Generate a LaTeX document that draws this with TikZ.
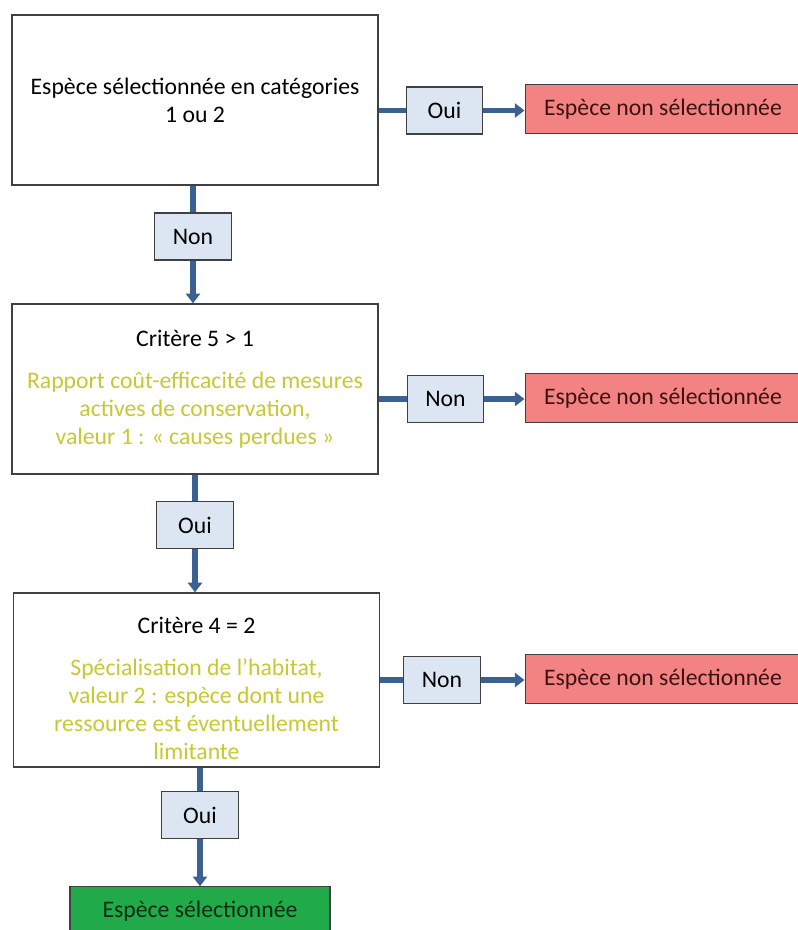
\documentclass[tikz,border=0pt]{standalone}
\usepackage{fontspec}
\setmainfont{Carlito}
\usetikzlibrary{arrows.meta,positioning,calc}
\definecolor{flecheBleu}{RGB}{59,96,146}
\definecolor{reponseFond}{RGB}{220,230,242}
\definecolor{rougeFond}{RGB}{243,130,130}
\definecolor{rougeTexte}{RGB}{60,18,18}
\definecolor{vertFond}{RGB}{32,170,74}
\definecolor{vertTexte}{RGB}{12,45,18}
\definecolor{jauneTexte}{RGB}{200,200,50}
\definecolor{bord}{RGB}{64,64,64}
\tikzset{
  critere/.style={draw=bord, line width=0.8pt, fill=white, align=center,
    minimum width=7.32cm, minimum height=3.4cm, inner sep=2pt},
  reponse/.style={draw=bord, line width=0.8pt, fill=reponseFond,
    minimum width=1.53cm, minimum height=0.94cm, inner sep=1pt},
  rejet/.style={draw=bord, line width=0.6pt, fill=rougeFond, text=rougeTexte,
    minimum width=5.52cm, minimum height=0.97cm},
  fleche/.style={draw=flecheBleu, line width=3.4pt,
    -{Triangle[width=8pt,length=5.5pt]}},
  trait/.style={draw=flecheBleu, line width=3.4pt}
}
\newcommand{\jaune}[1]{\textcolor{jauneTexte}{#1}}
\begin{document}
\begin{tikzpicture}[x=0.02cm, y=-0.02cm, font=\fontsize{13.5}{16}\selectfont]
\clip (0,0) rectangle (798,930);
\fill[white] (0,0) rectangle (798,930);

% questions
\node[critere] (q1) at (195,100) {Espèce sélectionnée en catégories\\1 ou 2};
\node[critere] (q2) at (195,389) {Critère 5 > 1\\[8pt]
  \jaune{Rapport coût-efficacité de mesures}\\
  \jaune{actives de conservation,}\\
  \jaune{valeur 1 : « causes perdues »}};
\node[critere, minimum height=3.48cm] (q3) at (196.5,680) {\rule{0pt}{19pt}Critère 4 = 2\\[8pt]
  \jaune{Spécialisation de l’habitat,}\\
  \jaune{valeur 2 : espèce dont une}\\
  \jaune{ressource est éventuellement}\\
  \jaune{limitante}};

% reponses
\node[reponse] (n1) at (193,236.5) {Non};
\node[reponse] (o2) at (195,525) {Oui};
\node[reponse] (o3) at (200,815) {Oui};
\node[reponse] (o1) at (444.5,110.5) {Oui};
\node[reponse] (n2) at (445.5,399) {Non};
\node[reponse] (n3) at (442,680) {Non};

% resultats
\node[rejet] (r1) at (663,109) {Espèce non sélectionnée};
\node[rejet] (r2) at (663,398) {Espèce non sélectionnée};
\node[rejet] (r3) at (663,679) {Espèce non sélectionnée};
\node[draw=bord, line width=0.6pt, fill=vertFond, text=vertTexte,
  minimum width=5.2cm, minimum height=0.97cm] (sel) at (200,911) {Espèce sélectionnée};

% fleches
\draw[trait] (q1.south -| n1) -- (n1.north);
\draw[fleche] (n1.south) -- (n1.south |- q2.north);
\draw[trait] (q2.south -| o2) -- (o2.north);
\draw[fleche] (o2.south) -- (o2.south |- q3.north);
\draw[trait] (q3.south -| o3) -- (o3.north);
\draw[fleche] (o3.south) -- (o3.south |- sel.north);
\draw[trait] (q1.east |- o1) -- (o1.west);
\draw[fleche] (o1.east) -- (o1.east -| r1.west);
\draw[trait] (q2.east |- n2) -- (n2.west);
\draw[fleche] (n2.east) -- (n2.east -| r2.west);
\draw[trait] (q3.east |- n3) -- (n3.west);
\draw[fleche] (n3.east) -- (n3.east -| r3.west);
\end{tikzpicture}
\end{document}
